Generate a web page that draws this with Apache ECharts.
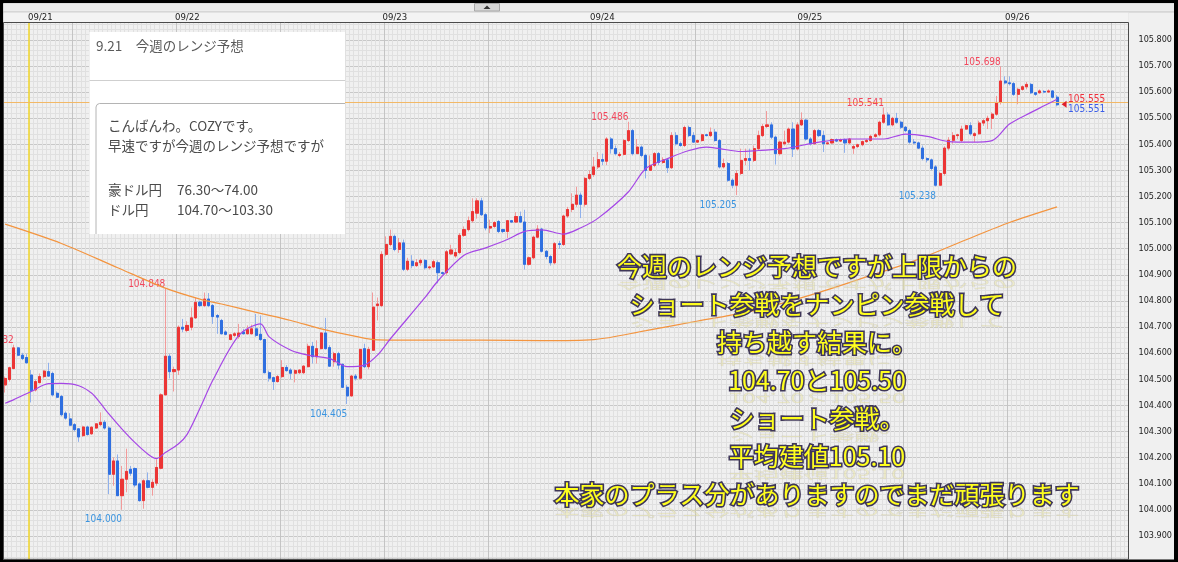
<!DOCTYPE html>
<html><head><meta charset="utf-8">
<script src="https://cdn.jsdelivr.net/npm/echarts@6/dist/echarts.min.js"></script>
<style>html,body{margin:0;padding:0;background:#000}#c{width:1178px;height:562px}</style>
</head><body><div id="c"></div>
<script>
// ---- DATA (USD/JPY 30-minute candles) ----
const opens = [104.478,104.499,104.541,104.620,104.592,104.583,104.516,104.459,104.487,104.510,104.529,104.522,104.446,104.434,104.370,104.348,104.326,104.310,104.284,104.317,104.291,104.313,104.326,104.335,104.313,104.136,104.187,104.054,104.117,104.155,104.158,104.099,104.035,104.111,104.086,104.102,104.159,104.440,104.588,104.529,104.535,104.699,104.687,104.699,104.735,104.795,104.782,104.807,104.782,104.744,104.725,104.681,104.652,104.668,104.664,104.681,104.674,104.674,104.693,104.672,104.652,104.525,104.506,104.491,104.510,104.545,104.535,104.523,104.525,104.525,104.548,104.626,104.586,104.617,104.677,104.621,104.567,104.598,104.557,104.469,104.436,104.512,104.504,104.617,104.548,104.611,104.782,104.782,104.978,105.016,105.047,104.997,105.022,104.921,104.952,104.935,104.946,104.955,104.927,104.930,104.946,104.908,104.908,104.980,104.972,104.985,105.051,105.073,105.107,105.136,105.183,105.130,105.079,105.085,105.104,105.073,105.066,105.107,105.102,105.123,105.102,104.940,104.965,105.044,105.075,104.990,104.970,104.946,105.019,105.016,105.125,105.150,105.170,105.205,105.170,105.269,105.284,105.313,105.341,105.335,105.420,105.383,105.357,105.361,105.414,105.452,105.364,105.389,105.357,105.300,105.319,105.364,105.330,105.340,105.310,105.433,105.402,105.395,105.464,105.433,105.408,105.414,105.436,105.433,105.446,105.414,105.313,105.326,105.262,105.243,105.288,105.338,105.345,105.338,105.383,105.433,105.468,105.474,105.427,105.364,105.402,105.408,105.458,105.382,105.474,105.492,105.420,105.402,105.452,105.433,105.402,105.405,105.418,105.412,105.418,105.405,105.385,105.391,105.398,105.410,105.414,105.430,105.436,105.484,105.512,105.474,105.499,105.484,105.465,105.452,105.408,105.405,105.385,105.345,105.340,105.313,105.243,105.288,105.385,105.415,105.433,105.414,105.458,105.471,105.433,105.440,105.481,105.490,105.499,105.515,105.560,105.642,105.635,105.632,105.591,105.610,105.620,105.629,105.597,105.597,105.602,105.600,105.604,105.580];
const closes = [104.503,104.544,104.620,104.592,104.579,104.563,104.456,104.491,104.510,104.531,104.512,104.440,104.431,104.364,104.351,104.324,104.307,104.279,104.317,104.288,104.316,104.329,104.335,104.313,104.136,104.187,104.054,104.117,104.147,104.140,104.095,104.035,104.111,104.086,104.105,104.162,104.440,104.588,104.529,104.537,104.699,104.692,104.706,104.735,104.794,104.782,104.807,104.782,104.740,104.738,104.674,104.672,104.670,104.674,104.677,104.674,104.690,104.693,104.668,104.652,104.525,104.504,104.491,104.510,104.545,104.533,104.523,104.533,104.535,104.550,104.626,104.586,104.617,104.677,104.617,104.550,104.598,104.554,104.469,104.436,104.512,104.504,104.614,104.548,104.614,104.776,104.788,104.978,105.016,105.047,104.997,105.022,104.921,104.952,104.935,104.946,104.955,104.927,104.930,104.950,104.908,104.905,104.988,104.995,104.985,105.051,105.073,105.107,105.142,105.183,105.130,105.079,105.085,105.100,105.066,105.066,105.107,105.102,105.123,105.102,104.940,104.965,105.044,105.075,104.990,104.970,104.946,105.019,105.016,105.125,105.150,105.170,105.205,105.170,105.269,105.284,105.313,105.341,105.335,105.420,105.383,105.364,105.361,105.414,105.452,105.364,105.389,105.357,105.300,105.319,105.364,105.330,105.340,105.310,105.433,105.402,105.395,105.464,105.433,105.408,105.414,105.436,105.433,105.446,105.414,105.313,105.326,105.262,105.243,105.288,105.338,105.345,105.338,105.383,105.433,105.468,105.474,105.427,105.364,105.408,105.408,105.458,105.382,105.474,105.492,105.420,105.402,105.452,105.433,105.402,105.405,105.418,105.412,105.418,105.405,105.420,105.391,105.398,105.410,105.414,105.430,105.436,105.484,105.512,105.474,105.499,105.484,105.465,105.452,105.408,105.405,105.385,105.345,105.340,105.307,105.243,105.288,105.385,105.415,105.433,105.436,105.458,105.471,105.440,105.440,105.481,105.490,105.499,105.515,105.560,105.642,105.635,105.632,105.591,105.610,105.620,105.629,105.597,105.591,105.604,105.600,105.604,105.580,105.551];
const lows = [104.449,104.491,104.538,104.588,104.573,104.560,104.411,104.453,104.484,104.503,104.510,104.434,104.427,104.358,104.345,104.320,104.301,104.260,104.279,104.284,104.287,104.310,104.320,104.307,104.060,104.092,104.054,104.000,104.067,104.130,104.086,104.031,104.004,104.082,104.054,104.092,104.155,104.440,104.503,104.453,104.516,104.680,104.680,104.687,104.731,104.776,104.776,104.776,104.712,104.674,104.672,104.668,104.649,104.662,104.655,104.672,104.672,104.672,104.662,104.647,104.523,104.491,104.459,104.487,104.504,104.529,104.500,104.488,104.520,104.520,104.545,104.560,104.560,104.614,104.614,104.548,104.548,104.538,104.466,104.405,104.434,104.495,104.500,104.542,104.538,104.608,104.725,104.776,104.971,105.009,104.990,104.984,104.914,104.914,104.925,104.930,104.935,104.920,104.920,104.925,104.867,104.900,104.900,104.975,104.965,104.980,105.045,105.066,105.100,105.115,105.125,105.070,105.060,105.080,105.060,105.060,105.041,105.098,105.098,105.098,104.920,104.935,104.960,105.040,104.985,104.960,104.935,104.940,105.000,105.010,105.118,105.140,105.160,105.117,105.161,105.262,105.275,105.305,105.320,105.320,105.364,105.357,105.350,105.357,105.408,105.357,105.364,105.350,105.269,105.300,105.312,105.320,105.325,105.290,105.305,105.395,105.390,105.389,105.427,105.405,105.405,105.410,105.430,105.427,105.410,105.307,105.307,105.256,105.231,105.205,105.282,105.320,105.300,105.332,105.376,105.427,105.462,105.420,105.322,105.357,105.395,105.402,105.351,105.376,105.470,105.414,105.395,105.398,105.427,105.370,105.398,105.402,105.408,105.408,105.367,105.400,105.363,105.385,105.392,105.405,105.410,105.425,105.430,105.478,105.470,105.468,105.478,105.458,105.446,105.402,105.400,105.382,105.338,105.330,105.300,105.238,105.240,105.280,105.376,105.402,105.420,105.408,105.455,105.433,105.408,105.436,105.470,105.458,105.458,105.509,105.552,105.629,105.625,105.585,105.553,105.605,105.610,105.592,105.585,105.594,105.595,105.596,105.575,105.545];
const highs = [104.510,104.548,104.632,104.624,104.601,104.596,104.535,104.497,104.522,104.535,104.563,104.529,104.453,104.440,104.377,104.370,104.332,104.313,104.322,104.322,104.320,104.332,104.373,104.343,104.320,104.200,104.212,104.168,104.234,104.168,104.162,104.105,104.117,104.143,104.117,104.193,104.446,104.848,104.596,104.548,104.706,104.731,104.722,104.775,104.813,104.801,104.832,104.830,104.788,104.750,104.731,104.687,104.674,104.681,104.712,104.693,104.706,104.709,104.750,104.744,104.655,104.533,104.510,104.516,104.573,104.554,104.542,104.538,104.538,104.554,104.636,104.643,104.649,104.681,104.735,104.630,104.605,104.605,104.560,104.478,104.516,104.520,104.617,104.636,104.624,104.832,104.813,104.990,105.047,105.073,105.054,105.041,105.035,104.965,104.975,104.960,104.962,104.960,104.935,104.958,104.955,104.912,104.995,105.015,105.000,105.060,105.085,105.123,105.193,105.193,105.195,105.136,105.111,105.105,105.110,105.076,105.110,105.110,105.140,105.142,105.149,104.970,105.050,105.090,105.080,104.995,104.975,105.025,105.030,105.130,105.160,105.212,105.237,105.215,105.275,105.300,105.351,105.370,105.364,105.427,105.427,105.395,105.370,105.420,105.486,105.458,105.420,105.395,105.364,105.357,105.370,105.370,105.350,105.345,105.446,105.446,105.410,105.471,105.471,105.446,105.418,105.440,105.440,105.464,105.458,105.420,105.345,105.332,105.269,105.300,105.383,105.383,105.383,105.395,105.452,105.477,105.527,105.484,105.433,105.414,105.452,105.464,105.484,105.484,105.522,105.496,105.427,105.458,105.458,105.452,105.410,105.422,105.422,105.422,105.422,105.424,105.398,105.402,105.414,105.420,105.436,105.442,105.490,105.541,105.522,105.505,105.520,105.490,105.470,105.458,105.420,105.410,105.395,105.350,105.345,105.320,105.295,105.392,105.427,105.446,105.440,105.471,105.475,105.484,105.446,105.490,105.496,105.509,105.522,105.585,105.698,105.660,105.660,105.638,105.616,105.625,105.638,105.635,105.600,105.610,105.607,105.610,105.606,105.588];
// moving averages: [candle index, value]
const maShort = [[0,104.408],[2,104.422],[6,104.453],[10,104.483],[13,104.484],[17,104.475],[20,104.446],[22,104.408],[24,104.366],[27,104.309],[30,104.257],[33,104.213],[35,104.196],[37,104.219],[40,104.252],[42,104.288],[45,104.389],[48,104.497],[54,104.668],[59,104.712],[61,104.662],[66,104.611],[70,104.592],[75,104.579],[79,104.548],[83,104.554],[86,104.592],[89,104.655],[97,104.813],[100,104.877],[106,104.975],[111,105.003],[116,105.035],[120,105.066],[124,105.072],[129,105.056],[133,105.080],[137,105.117],[144,105.218],[148,105.307],[153,105.345],[158,105.376],[162,105.389],[165,105.383],[170,105.372],[174,105.376],[180,105.383],[188,105.408],[195,105.420],[203,105.420],[208,105.439],[213,105.430],[218,105.410],[223,105.408],[228,105.414],[232,105.477],[237,105.522],[240,105.547],[243,105.572]];
const maLong = [[0,105.094],[13,105.020],[26,104.927],[37,104.849],[45,104.807],[50,104.788],[58,104.756],[66,104.725],[73,104.693],[81,104.664],[86,104.651],[95,104.650],[110,104.650],[124,104.648],[136,104.652],[148,104.686],[160,104.723],[173,104.763],[185,104.817],[197,104.881],[210,104.953],[222,105.034],[232,105.100],[243,105.160]];
const highMarks = [[2,104.632],[37,104.848],[144,105.486],[203,105.541],[230,105.698]];
const lowMarks = [[27,104.000],[79,104.405],[169,105.205],[215,105.238]];
const askPrice = 105.555, bidPrice = 105.551;
const yTicks = {min: 103.8, max: 105.9, step: 0.1};
const SLOTS = 260;
// time categories: Friday's last candles, then the week from Monday 07:00 (30-minute bars)
const categories = [];
for (let i = 0; i < SLOTS; i++) {
  let mins = i < 6 ? (3 * 60 + i * 30) : (7 * 60 + (i - 6) * 30);
  const d = (i < 6 ? 19 : 21) + Math.floor(mins / 1440);
  mins %= 1440;
  categories.push('09/' + String(d).padStart(2, '0') + ' ' + String(Math.floor(mins / 60)).padStart(2, '0') + ':' + String(mins % 60).padStart(2, '0'));
}
const WEEK_OPEN = 6;
const dayLabelShown = (i, v) => i === WEEK_OPEN || v.endsWith(' 00:00');
// slot boundaries that carry the darker 12-hour separators
const majorIdx = categories.map((v, i) => (v.endsWith(' 00:00') || v.endsWith(' 12:00')) ? i : -1).filter(i => i >= 0);

// ---- STYLE ----
const NARROW = "'Liberation Sans Narrow','DejaVu Sans Condensed','Arial Narrow',sans-serif";
const JP = "'Noto Sans CJK JP','Noto Sans',sans-serif";
const UP = '#ec3535', DOWN = '#2f6fe0', UP_W = '#f29a9a', DOWN_W = '#8fb0ec';
const BG = '#f0f0f0', MINOR = '#e0e0e0', MAJOR = '#c8c8c8';

const chart = echarts.init(document.getElementById('c'));
const wickData = opens.map((o, i) => [o, closes[i], lows[i], highs[i]]);
const bodyData = opens.map((o, i) => [o, closes[i], Math.min(o, closes[i]), Math.max(o, closes[i])]);

const markData = [];
highMarks.forEach(([i, v]) => markData.push({name: v.toFixed(3), coord: [i, v], symbolSize: 0,
  label: {position: 'top', distance: 0, align: 'right', offset: [0, 1], color: '#f2475c'}}));
lowMarks.forEach(([i, v]) => markData.push({name: v.toFixed(3), coord: [i, v], symbolSize: 0,
  label: {position: 'bottom', distance: 5, align: 'right', offset: [0, 0], color: '#3a94e0'}}));
const last = opens.length - 1;
markData.push({name: '', coord: [last, (askPrice + bidPrice) / 2], symbol: 'path://M0,5 L8,0 L8,10 Z', symbolSize: [5, 7], symbolOffset: [7, 0], itemStyle: {color: '#e01e2a'}, label: {show: false}});
markData.push({name: askPrice.toFixed(3), coord: [last, askPrice], symbolSize: 0, label: {position: 'right', distance: 11, offset: [0, -4], color: '#f0303c'}});
markData.push({name: bidPrice.toFixed(3), coord: [last, bidPrice], symbolSize: 0, label: {position: 'right', distance: 11, offset: [0, 4.5], color: '#3a5de8'}});

const vLines = majorIdx.map(i => ({xAxis: i}));
vLines.push({xAxis: WEEK_OPEN, lineStyle: {color: '#f0d62a', width: 1.5}});

const Z = 100;
const box = (x, y, w, h, fill, z) => ({type: 'rect', z: z || Z, silent: true, shape: {x, y, width: w, height: h}, style: {fill}});
const txt = (text, x, y, style, z, extra) => Object.assign({type: 'text', z: z || Z + 2, silent: true,
  style: Object.assign({text, x, y, align: 'left', textAlign: 'left', verticalAlign: 'middle', textVerticalAlign: 'middle'}, style)}, extra || {});
const bigLines = ['今週のレンジ予想ですが上限からの', 'ショート参戦をナンピン参戦して', '持ち越す結果に。', '104.70と105.50', 'ショート参戦。', '平均建値105.10', '本家のプラス分がありますのでまだ頑張ります'];
const bigStyle = {fontSize: 25, fontFamily: JP, fontWeight: 'normal', fill: '#ffff1e', stroke: '#3e3658', lineWidth: 3.2, strokeFirst: true, align: 'center', textAlign: 'center'};
const reflStyle = {fontSize: 25, fontFamily: JP, fontWeight: 'normal', fill: '#efe88a', stroke: '#b8b4c0', lineWidth: 1, opacity: 0.35, align: 'center', textAlign: 'center'};
const boxFont = {fontSize: 13.5, fontFamily: JP, fill: '#4a4a4a'};

const graphics = [
  // outer black frame
  box(0, 0, 1178, 3.3, '#000'), box(0, 0, 3.3, 562, '#000'), box(1174, 0, 4, 562, '#000'), box(0, 559.5, 1178, 2.5, '#000'),
  // header strip & date row
  box(3.3, 3.3, 1170.7, 7.7, '#ececec'),
  box(3.3, 11, 1170.7, 1.7, '#d6d6d6'),
  box(3.3, 12.7, 1125.2, 9.8, '#f3f3f3'),
  {type: 'rect', z: Z, silent: true, shape: {x: 474.5, y: 3.5, width: 25, height: 7.5}, style: {fill: '#d6d6d6', stroke: '#a8a8a8', lineWidth: 1}},
  {type: 'polygon', z: Z + 1, silent: true, shape: {points: [[483.5, 9], [490.5, 9], [487, 5.5]]}, style: {fill: '#333'}},
  // plot frame
  {type: 'rect', z: Z, silent: true, shape: {x: 3.5, y: 22.5, width: 1125, height: 536.8}, style: {fill: 'none', stroke: '#4a4a4a', lineWidth: 1}},
  // blog text box
  box(89.5, 32, 255.5, 202, '#ffffff', Z + 1),
  {type: 'line', z: Z + 2, silent: true, shape: {x1: 89.5, y1: 80.5, x2: 345, y2: 80.5}, style: {stroke: '#cfcfcf', lineWidth: 1}},
  {type: 'polyline', z: Z + 2, silent: true, shape: {points: [[96, 234], [96, 107], [97, 104.6], [99.4, 103.5], [345, 103.5]]}, style: {stroke: '#b4b4b4', lineWidth: 1, fill: 'none'}},
  txt('9.21　今週のレンジ予想', 96, 46, {fontSize: 13.5, fontFamily: JP, fill: '#5a5a5a'}),
  txt('こんばんわ。COZYです。', 108, 126, boxFont),
  txt('早速ですが今週のレンジ予想ですが', 108, 146, boxFont),
  txt('豪ドル円', 108, 190, boxFont), txt('76.30～74.00', 177, 190, boxFont),
  txt('ドル円', 108, 210, boxFont), txt('104.70～103.30', 177, 210, boxFont)
];
bigLines.forEach((t, k) => {
  const yc = 266 + k * 38;
  graphics.push(txt(t, 817, yc, reflStyle, Z + 4, {scaleY: -0.5, originX: 817, originY: yc + 12}));
  graphics.push(txt(t, 817, yc, bigStyle, Z + 5));
});

chart.setOption({
  animation: false,
  backgroundColor: BG,
  textStyle: {fontFamily: NARROW},
  grid: [
    {left: 3, width: 1125.5, top: 13.65, height: 553.4, show: false},
    {left: -1.5, width: 1125.5, top: 22.5, height: 536.8, show: false}
  ],
  xAxis: [
    {gridIndex: 0, type: 'category', data: categories, boundaryGap: true, z: 0, axisLine: {show: false}, axisTick: {show: false}, axisLabel: {show: false},
      splitLine: {show: true, interval: 0, lineStyle: {color: MINOR, width: 1}}},
    {gridIndex: 0, type: 'value', min: 0, max: SLOTS, position: 'top', show: false, splitLine: {show: false}},
    {gridIndex: 1, type: 'category', data: categories, position: 'top', boundaryGap: true, z: 200, axisLine: {show: false}, axisTick: {show: false},
      splitLine: {show: false},
      axisLabel: {show: true, interval: dayLabelShown, formatter: v => v.slice(0, 5), align: 'left', margin: 0, lineHeight: 10, fontSize: 9.5, color: '#222', fontFamily: NARROW}}
  ],
  yAxis: [
    {gridIndex: 0, type: 'value', position: 'right', min: yTicks.min, max: yTicks.max, interval: yTicks.step, scale: true,
      axisLine: {show: false}, axisTick: {show: false},
      axisLabel: {margin: 10, align: 'left', fontSize: 9, color: '#222', fontFamily: NARROW,
        formatter: v => (v > 105.85 || v < 103.85) ? '' : v.toFixed(3)},
      splitLine: {show: true, lineStyle: {color: MAJOR, width: 1}},
      minorTick: {show: false, splitNumber: 5},
      minorSplitLine: {show: true, lineStyle: {color: MINOR, width: 1}}},
    {gridIndex: 1, type: 'value', show: false}
  ],
  series: [
    {name: 'separators', type: 'line', xAxisIndex: 1, yAxisIndex: 0, data: [], z: 1, silent: true,
      markLine: {silent: true, symbol: ['none', 'none'], label: {show: false}, animation: false,
        lineStyle: {color: '#c4c4c4', width: 1, type: 'solid'}, data: vLines}},
    {name: 'wick', type: 'candlestick', xAxisIndex: 0, yAxisIndex: 0, data: wickData, barWidth: 2.6, z: 3,
      itemStyle: {color: UP_W, color0: DOWN_W, borderColor: UP_W, borderColor0: DOWN_W, borderWidth: 1}},
    {name: 'body', type: 'candlestick', xAxisIndex: 0, yAxisIndex: 0, data: bodyData, barWidth: 2.6, z: 4,
      itemStyle: {color: UP, color0: DOWN, borderColor: UP, borderColor0: DOWN, borderWidth: 1},
      markLine: {silent: true, symbol: ['none', 'none'], label: {show: false}, lineStyle: {color: '#f2b866', width: 1, type: 'solid'},
        data: [{yAxis: askPrice}]},
      markPoint: {silent: true, symbol: 'circle', itemStyle: {color: 'transparent'},
        label: {show: true, formatter: '{b}', fontSize: 10, fontFamily: NARROW}, data: markData}},
    {name: 'MA long', type: 'line', xAxisIndex: 0, yAxisIndex: 0, data: maLong, smooth: 0.3, showSymbol: false, symbol: 'none', z: 5,
      lineStyle: {color: '#f3943f', width: 1.2}},
    {name: 'MA short', type: 'line', xAxisIndex: 0, yAxisIndex: 0, data: maShort, smooth: 0.3, showSymbol: false, symbol: 'none', z: 6,
      lineStyle: {color: '#a546e6', width: 1.2}}
  ],
  graphic: {elements: graphics}
});
</script></body></html>
